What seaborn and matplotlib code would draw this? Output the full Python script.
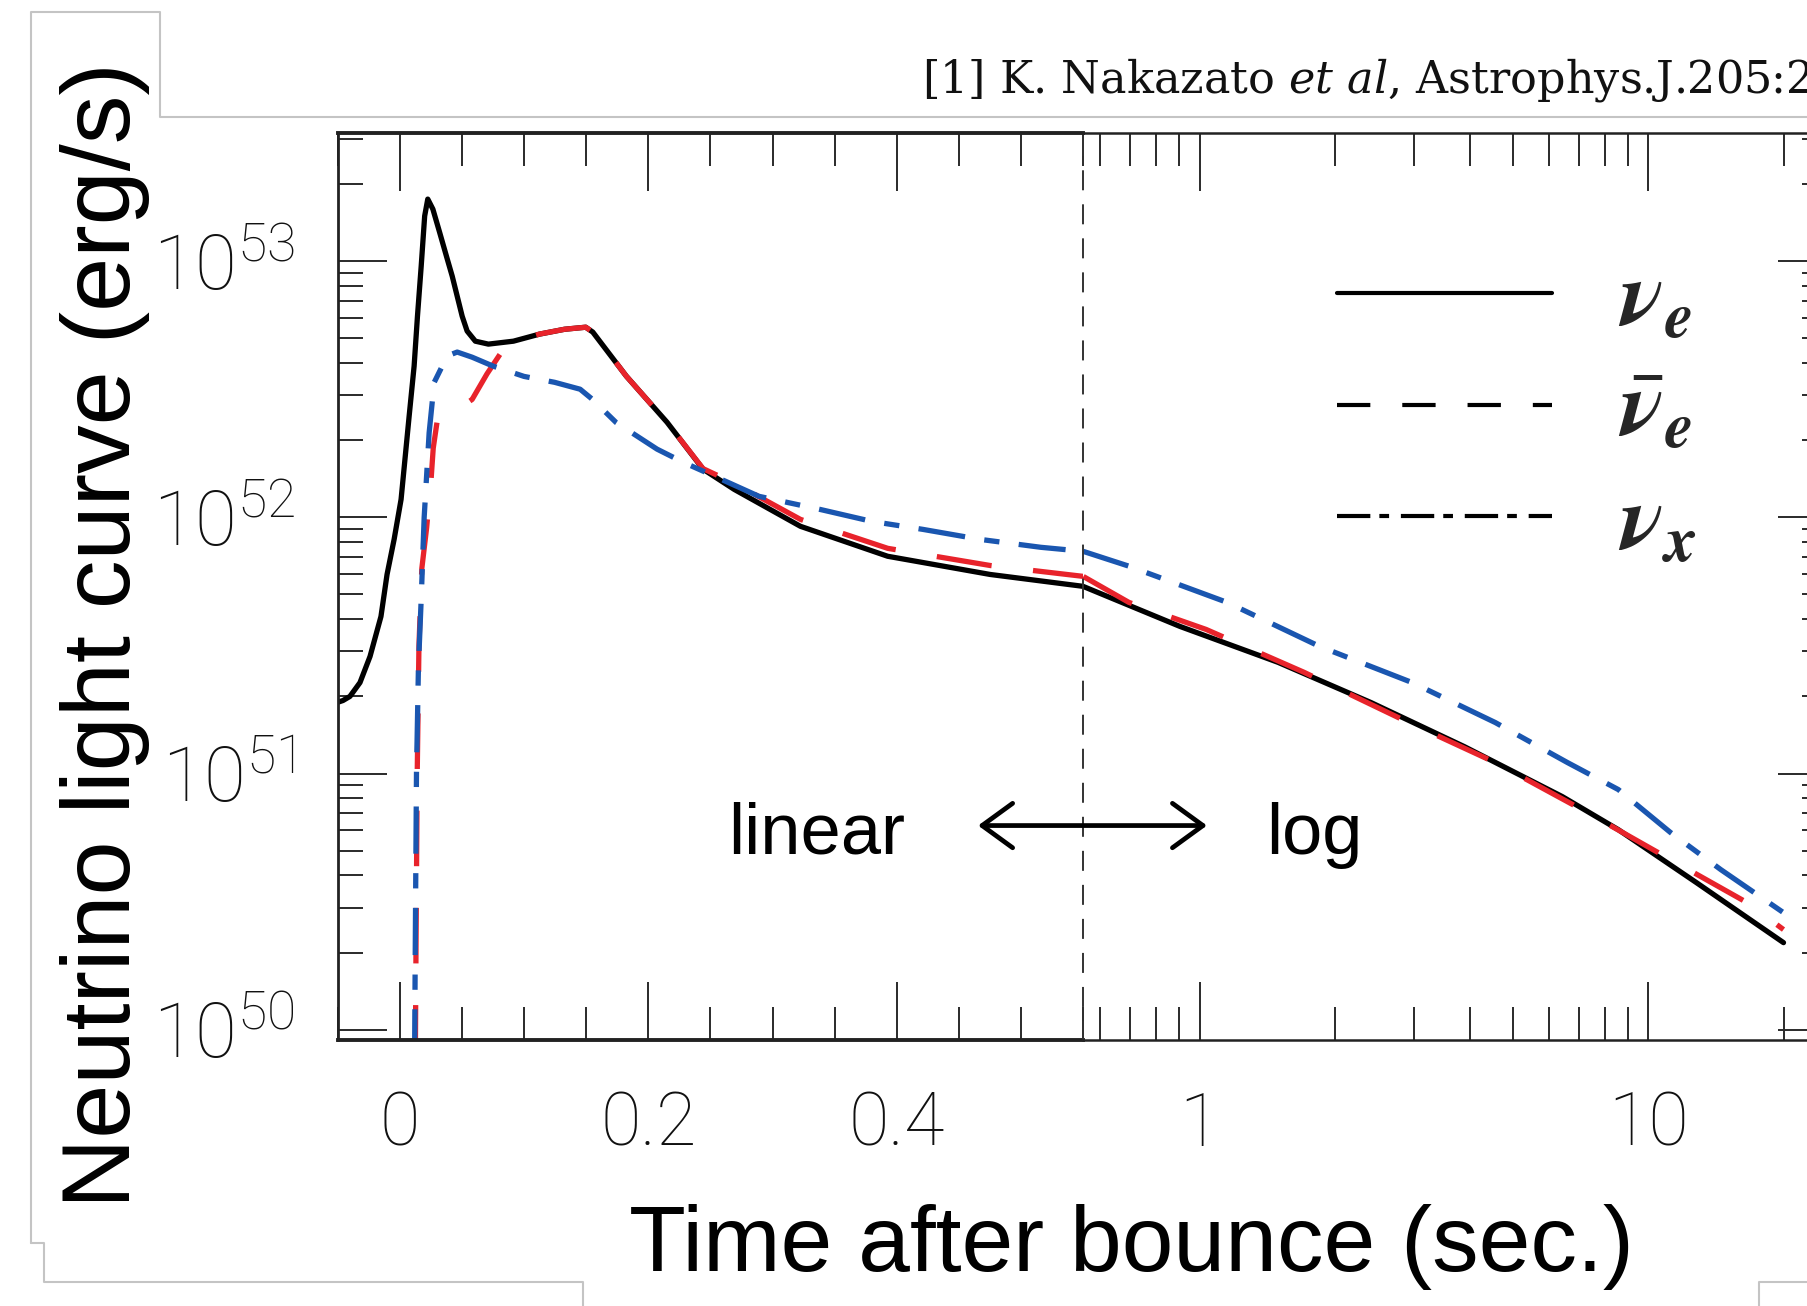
import numpy as np
import pandas as pd
import matplotlib
matplotlib.use("Agg")
import matplotlib.pyplot as plt
import seaborn as sns
from matplotlib.lines import Line2D
from matplotlib.font_manager import FontProperties
from matplotlib.ticker import FixedLocator, FixedFormatter, LogLocator, NullFormatter

# ---------------- data ----------------
FLAVORS = ["nu_e", "nu_e_bar", "nu_x"]
LEGEND_LABELS = [r"$\mathbfit{\nu}_{\mathbfit{e}}$",
                 r"$\bar{\mathbfit{\nu}}_{\mathbfit{e}}$",
                 r"$\mathbfit{\nu}_{\mathbfit{x}}$"]

# time after bounce (s) and log10 luminosity (erg/s)
T_NUE = [-0.0509, -0.0460, -0.0404, -0.0323, -0.0242, -0.0154, -0.0105, -0.0048, 0.0008,
         0.0073, 0.0113, 0.0140, 0.0170, 0.0198, 0.0223, 0.0264, 0.0318, 0.0380, 0.0420,
         0.0460, 0.0500, 0.0540, 0.0606, 0.0711, 0.0913, 0.1123, 0.1325, 0.1495, 0.1552,
         0.1822, 0.2150, 0.2440, 0.2691, 0.3224, 0.3927, 0.4752, 0.5511,
         0.905, 1.496, 2.41, 3.89, 6.43, 8.57, 12.8, 20.0]
LOGL_NUE = [51.277, 51.285, 51.301, 51.355, 51.457, 51.613, 51.777, 51.914, 52.070,
            52.395, 52.590, 52.785, 52.980, 53.176, 53.242, 53.203, 53.113, 53.008, 52.941,
            52.863, 52.785, 52.727, 52.6875, 52.676, 52.6875, 52.715, 52.734, 52.742, 52.723,
            52.551, 52.371, 52.188, 52.109, 51.965, 51.848, 51.777, 51.730,
            51.574, 51.434, 51.277, 51.105, 50.910, 50.781, 50.574, 50.340]

T_NUEBAR = [0.0118, 0.0128, 0.0138, 0.0152, 0.0175, 0.0214, 0.0250, 0.0267, 0.0300,
            0.0356, 0.046, 0.058, 0.070, 0.081, 0.096, 0.112, 0.1325, 0.1495, 0.1552,
            0.1822, 0.2150, 0.2440, 0.2691, 0.3224, 0.3927, 0.4752, 0.5511,
            0.696, 1.034, 1.71, 2.83, 4.56, 7.31, 10.9, 16.6, 20.0]
LOGL_NUEBAR = [49.5, 50.3, 51.0, 51.5, 51.8, 51.96, 52.15, 52.27, 52.38,
               52.41, 52.42, 52.46, 52.56, 52.64, 52.69, 52.715, 52.734, 52.742, 52.723,
               52.551, 52.371, 52.19, 52.133, 51.992, 51.879, 51.812, 51.769,
               51.668, 51.5625, 51.395, 51.211, 51.043, 50.848, 50.676, 50.496, 50.391]

T_NUX = [0.0112, 0.0122, 0.0132, 0.0148, 0.0170, 0.0194, 0.0234, 0.0275, 0.038,
         0.046, 0.058, 0.075, 0.0998, 0.1244, 0.145, 0.155, 0.174, 0.207, 0.228,
         0.246, 0.289, 0.339, 0.380, 0.421, 0.467, 0.516, 0.551,
         0.697, 1.152, 1.852, 2.977, 4.56, 6.60, 8.57, 11.2, 14.5, 20.0]
LOGL_NUX = [49.5, 50.3, 51.0, 51.42, 51.68, 52.00, 52.33, 52.527, 52.63,
            52.645, 52.625, 52.59, 52.55, 52.527, 52.50, 52.46, 52.37, 52.266, 52.215,
            52.176, 52.082, 52.03, 51.984, 51.953, 51.914, 51.883, 51.867,
            51.809, 51.668, 51.496, 51.355, 51.199, 51.043, 50.9375, 50.77, 50.625, 50.457]

LIN_MAJOR_TICKS = [0.0, 0.2, 0.4]
LIN_MAJOR_LABELS = ["0", "0.2", "0.4"]
LIN_MINOR_TICKS = [-0.05, 0.05, 0.1, 0.15, 0.25, 0.3, 0.35, 0.45, 0.5, 0.55]
LOG_MAJOR_TICKS = [1, 10]
LOG_MAJOR_LABELS = ["1", "10"]
Y_MAJOR_EXP = [50, 51, 52, 53]
Y_MINOR_SUBS = [2, 3, 4, 5, 6, 7, 8, 9]
T_SPLIT = 0.55
X_LIN_MIN = -0.05
X_LOG_MAX = 25.0
Y_MIN_EXP, Y_MAX_EXP = 49.96, 53.5

PALETTE = {"nu_e": "#000000", "nu_e_bar": "#e8232b", "nu_x": "#1a56b0"}
DASHES = {"nu_e": "", "nu_e_bar": (40, 30), "nu_x": (34, 14, 11, 14)}

# ---------------- style ----------------
sns.set_theme(style="ticks")
plt.rcParams["font.family"] = ["Roboto", "DejaVu Sans"]
plt.rcParams["font.weight"] = "light"
plt.rcParams["lines.scale_dashes"] = False
plt.rcParams["axes.edgecolor"] = "#222222"

W, H = 1808, 1306
fx = lambda x: x / W
fy = lambda y: 1 - y / H

fig = plt.figure(figsize=(W / 100, H / 100), dpi=100)
fig.patch.set_facecolor("white")

ax_lin = fig.add_axes([fx(338), fy(1040), (1083 - 338) / W, (1040 - 133) / H])
ax_log = fig.add_axes([fx(1083), fy(1040), (1827 - 1083) / W, (1040 - 133) / H])
for a in (ax_lin, ax_log):
    a.set_facecolor("none")
    a.set_yscale("log")
ax_log.set_xscale("log")

frames = []
for name, tt, ll in [("nu_e", T_NUE, LOGL_NUE), ("nu_e_bar", T_NUEBAR, LOGL_NUEBAR),
                     ("nu_x", T_NUX, LOGL_NUX)]:
    frames.append(pd.DataFrame({"t": tt, "L": 10 ** np.asarray(ll), "flavor": name}))
df = pd.concat(frames, ignore_index=True)
df_lin = df[df["t"] <= T_SPLIT + 0.01]
df_log = df[df["t"] >= T_SPLIT]

for a, d in ((ax_lin, df_lin), (ax_log, df_log)):
    sns.lineplot(data=d, x="t", y="L", hue="flavor", hue_order=FLAVORS, palette=PALETTE,
                 style="flavor", style_order=FLAVORS, dashes=DASHES, linewidth=3.8,
                 estimator=None, sort=False, legend=False, ax=a)
    for ln in a.get_lines():
        ln.set_solid_joinstyle("round")
        ln.set_dash_joinstyle("round")

ylim = (10 ** Y_MIN_EXP, 10 ** Y_MAX_EXP)
ax_lin.set_xlim(X_LIN_MIN, T_SPLIT)
ax_lin.set_ylim(*ylim)
ax_log.set_xlim(T_SPLIT, X_LOG_MAX)
ax_log.set_ylim(*ylim)

# ticks: linear part
ax_lin.xaxis.set_major_locator(FixedLocator(LIN_MAJOR_TICKS))
ax_lin.xaxis.set_major_formatter(FixedFormatter(LIN_MAJOR_LABELS))
ax_lin.xaxis.set_minor_locator(FixedLocator(LIN_MINOR_TICKS))
ax_lin.xaxis.set_minor_formatter(NullFormatter())
ax_lin.yaxis.set_major_locator(FixedLocator([10.0 ** e for e in Y_MAJOR_EXP]))
ax_lin.yaxis.set_major_formatter(FixedFormatter([r"$\mathregular{10^{%d}}$" % e for e in Y_MAJOR_EXP]))
ax_lin.yaxis.set_minor_locator(LogLocator(base=10, subs=Y_MINOR_SUBS))
ax_lin.yaxis.set_minor_formatter(NullFormatter())

# ticks: log part
ax_log.xaxis.set_major_locator(FixedLocator(LOG_MAJOR_TICKS))
ax_log.xaxis.set_major_formatter(FixedFormatter(LOG_MAJOR_LABELS))
ax_log.xaxis.set_minor_locator(LogLocator(base=10, subs=Y_MINOR_SUBS))
ax_log.xaxis.set_minor_formatter(NullFormatter())
ax_log.yaxis.set_major_locator(FixedLocator([10.0 ** e for e in Y_MAJOR_EXP]))
ax_log.yaxis.set_minor_locator(LogLocator(base=10, subs=Y_MINOR_SUBS))
ax_log.yaxis.set_minor_formatter(NullFormatter())

tick_col = "#2a2a2a"
for a in (ax_lin, ax_log):
    a.tick_params(axis="x", which="both", direction="in", top=True, bottom=True,
                  width=1.4, color=tick_col, pad=36, labelsize=53, labelcolor="#111111")
    a.tick_params(axis="x", which="major", length=42)
    a.tick_params(axis="x", which="minor", length=24)
ax_lin.tick_params(axis="y", which="both", direction="in", left=True, right=False,
                   width=1.4, color=tick_col, pad=31, labelsize=55, labelcolor="#111111")
ax_lin.tick_params(axis="y", which="major", length=35)
ax_lin.tick_params(axis="y", which="minor", length=18)
ax_log.tick_params(axis="y", which="both", direction="in", left=False, right=True,
                   labelleft=False, labelright=False, width=1.4, color=tick_col)
ax_log.tick_params(axis="y", which="major", length=35)
ax_log.tick_params(axis="y", which="minor", length=18)

# spines
ax_lin.spines["right"].set_visible(False)
ax_lin.spines["left"].set_linewidth(2.0)
ax_lin.spines["top"].set_linewidth(2.8)
ax_lin.spines["bottom"].set_linewidth(2.8)
for s in ("top", "bottom", "right"):
    ax_log.spines[s].set_linewidth(1.8)
ax_log.spines["left"].set_linewidth(1.4)
ax_log.spines["left"].set_color("#333333")
ax_log.spines["left"].set_linestyle((0, (13, 11.5)))

# labels
ax_log.set_xlabel("")
ax_log.set_ylabel("")
ax_lin.set_xlabel("Time after bounce (sec.)", fontsize=67, family="Liberation Sans",
                  weight="normal", color="black", va="center")
ax_lin.xaxis.set_label_coords((1131 - 338) / 745, (1040 - 1247) / 907)
ax_lin.set_ylabel("Neutrino light curve (erg/s)", fontsize=70, family="Liberation Sans",
                  weight="normal", color="black", va="center")
ax_lin.yaxis.set_label_coords((105 - 338) / 745, (1040 - 635) / 907)

# annotations: linear <-> log
y_txt = 10 ** 50.6875
ax_lin.text(0.264, y_txt, "linear", fontsize=52, family="Liberation Sans", weight="normal",
            ha="left", va="baseline", color="black")
ax_log.text(1.407, y_txt, "log", fontsize=52, family="Liberation Sans", weight="normal",
            ha="left", va="baseline", color="black")
y_arr = 10 ** 50.797
ax_log.annotate("", xy=(1.039, y_arr), xycoords="data",
                xytext=(0.4655, y_arr), textcoords=ax_lin.transData,
                arrowprops=dict(arrowstyle="<->,head_length=0.55,head_width=0.4",
                                lw=3.4, color="black", shrinkA=0, shrinkB=0,
                                mutation_scale=40),
                annotation_clip=False)

# legend (black key lines)
handles = [Line2D([], [], color="black", lw=3.0, ls="-"),
           Line2D([], [], color="black", lw=3.0, dashes=(24, 23)),
           Line2D([], [], color="black", lw=3.0, dashes=(24, 6.5, 7, 8.5))]
fig.legend(handles, LEGEND_LABELS, loc="upper left",
           bbox_to_anchor=(fx(1337), fy(256)), frameon=False,
           prop=FontProperties(size=66, math_fontfamily="stix"),
           handlelength=2.35, handletextpad=0.72, labelspacing=0.25,
           borderpad=0, borderaxespad=0)

# reference line
fig.text(fx(922), fy(93), r"[1] K. Nakazato $\mathit{et\ al}$, Astrophys.J.205:2",
         fontsize=32, family="DejaVu Serif", math_fontfamily="dejavuserif",
         weight="normal", ha="left", va="baseline", color="#111111")

# slide frame lines
gray = "#c4c4c4"
for xs, ys in [([31, 31, 160, 160, 1808], [1243, 12, 12, 117, 117]),
               ([31, 44, 44, 583, 583], [1243, 1243, 1282, 1282, 1306]),
               ([1759, 1759, 1808], [1306, 1282, 1282])]:
    fig.add_artist(Line2D([fx(v) for v in xs], [fy(v) for v in ys], color=gray, lw=1.5,
                          transform=fig.transFigure))

fig.savefig("out.png", dpi=100, facecolor="white")
